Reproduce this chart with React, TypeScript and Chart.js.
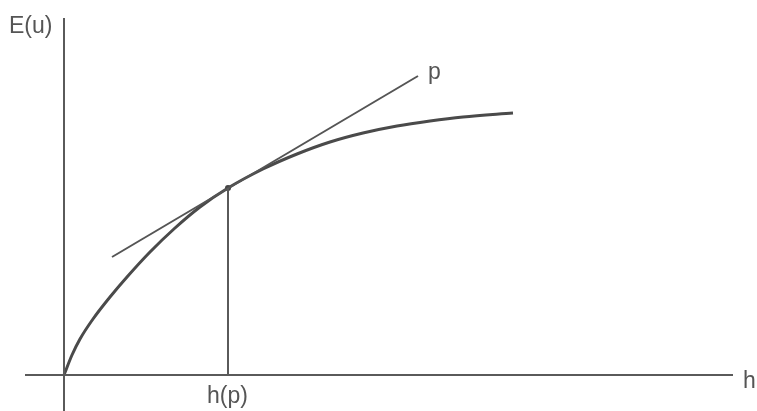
import React, { useEffect, useRef } from "react";
import { Chart, registerables } from "chart.js";

Chart.register(...registerables);

// Utility curve E(u) as a function of h (abstract units)
const curveX = [0, 0.8, 1.6, 2.9, 4.6, 6.3, 8.6, 11.1, 13.6, 16.4, 19.9, 23.3, 26.6, 29.9, 33.3, 36.6, 39.9, 44.9];
const curveY = [0, 2.0, 3.6, 5.6, 7.8, 9.8, 12.3, 14.7, 16.8, 18.7, 20.6, 22.1, 23.3, 24.2, 24.9, 25.4, 25.8, 26.2];

// Tangent line p through the point (h(p), E(u))
const tangentX = [4.8, 35.4];
const tangentY = [11.8, 29.9];

// Tangency point
const pointX = [16.4];
const pointY = [18.7];

// Axes
const vAxisX = [0, 0];
const vAxisY = [-3.8, 35.7];
const hAxisX = [-3.9, 66.9];
const hAxisY = [0, 0];

// Labels
const labelTexts = ["E(u)", "p", "h(p)", "h"];
const labelX = [-5.5, 36.4, 14.3, 67.9];
const labelY = [34.2, 29.6, -2.8, -1.3];

const zip = (xs: number[], ys: number[]) => xs.map((x, i) => ({ x, y: ys[i] }));

export default function App() {
  const ref = useRef<HTMLCanvasElement | null>(null);

  useEffect(() => {
    document.body.style.margin = "0";
    document.body.style.background = "#ffffff";
    const labelPlugin = {
      id: "labels",
      afterDraw(chart: any) {
        const { ctx, scales } = chart;
        ctx.save();
        ctx.fillStyle = "#555555";
        ctx.font = "23px 'Liberation Sans', Arial, sans-serif";
        ctx.textBaseline = "alphabetic";
        ctx.textAlign = "left";
        labelTexts.forEach((t, i) => {
          ctx.fillText(t, scales.x.getPixelForValue(labelX[i]), scales.y.getPixelForValue(labelY[i]));
        });
        ctx.restore();
      },
    };
    const chart = new Chart(ref.current!, {
      type: "line",
      data: {
        datasets: [
          {
            data: zip(vAxisX, vAxisY),
            borderColor: "#5a5a5a",
            borderWidth: 2,
            pointRadius: 0,
          },
          {
            data: zip(hAxisX, hAxisY),
            borderColor: "#5a5a5a",
            borderWidth: 2,
            pointRadius: 0,
          },
          {
            data: [
              { x: pointX[0], y: 0 },
              { x: pointX[0], y: pointY[0] },
            ],
            borderColor: "#5a5a5a",
            borderWidth: 2,
            pointRadius: 0,
          },
          {
            data: zip(tangentX, tangentY),
            borderColor: "#555555",
            borderWidth: 2,
            pointRadius: 0,
          },
          {
            data: zip(curveX, curveY),
            borderColor: "#4a4a4a",
            borderWidth: 3,
            pointRadius: 0,
            tension: 0.4,
            cubicInterpolationMode: "monotone",
          },
          {
            data: zip(pointX, pointY),
            showLine: false,
            pointRadius: 3,
            pointBackgroundColor: "#444444",
            pointBorderWidth: 0,
          },
        ],
      },
      options: {
        animation: false,
        responsive: false,
        layout: { padding: 0, autoPadding: false },
        plugins: { legend: { display: false }, tooltip: { enabled: false } },
        scales: {
          x: { type: "linear", min: -6.4, max: 69.3, display: false },
          y: { type: "linear", min: -3.6, max: 37.5, display: false },
        },
      },
      plugins: [labelPlugin],
    } as any);
    return () => chart.destroy();
  }, []);

  return (
    <div style={{ position: "fixed", left: 0, top: 0, width: 757, height: 411 }}>
      <canvas ref={ref} width={757} height={411} />
    </div>
  );
}
